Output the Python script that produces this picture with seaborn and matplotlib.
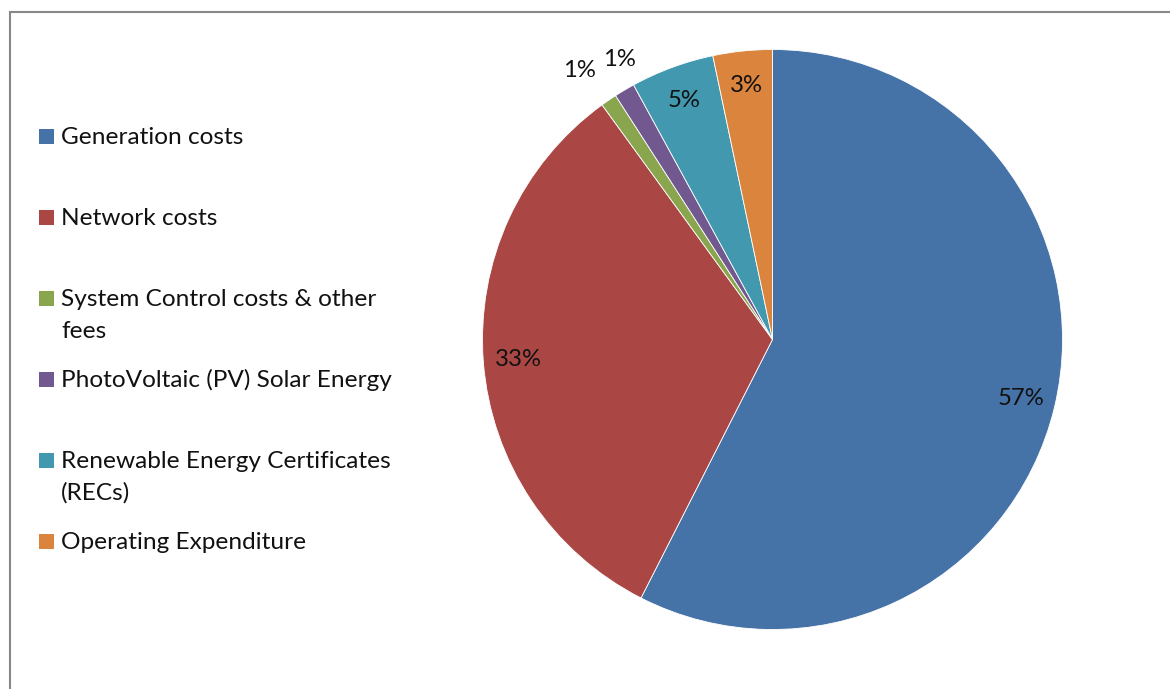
import matplotlib
matplotlib.use("Agg")
import matplotlib.pyplot as plt
import seaborn as sns
import numpy as np
from matplotlib.patches import Rectangle

# %% data (share of total cost, %)
categories = ["Generation costs", "Network costs", "System Control costs & other\nfees",
              "PhotoVoltaic (PV) Solar Energy", "Renewable Energy Certificates\n(RECs)",
              "Operating Expenditure"]
shares = [57.49, 32.51, 0.90, 1.15, 4.65, 3.30]
colors = sns.color_palette(["#4572A7", "#AA4643", "#89A54E", "#71588F", "#4198AF", "#DB843D"])

# small slices get their label outside the pie: index -> (radius, angle shift in deg)
outside = {2: (1.14, 1.3), 3: (1.10, -2.1)}

# %% figure
sns.set_theme(style="white")
plt.rcParams["font.family"] = ["Lato", "DejaVu Sans"]

W, H = 1170, 689
fig = plt.figure(figsize=(W / 100, H / 100), dpi=100)
fig.patch.set_facecolor("white")


def fx(px):
    return px / W


def fy(py):
    return 1 - py / H


# pie centred at (772, 340) px with radius 290 px
ax = fig.add_axes([fx(482.5), fy(629.5), 580 / W, 580 / H])
wedges, texts, autotexts = ax.pie(
    shares, colors=colors, startangle=90, counterclock=False,
    autopct="%.0f%%", pctdistance=0.88,
    wedgeprops=dict(edgecolor="white", linewidth=0.6),
    textprops=dict(fontsize=17.2, color="#111111"))
ax.set_xlim(-1, 1)
ax.set_ylim(-1, 1)
ax.set_aspect("equal")
ax.axis("off")

for i, (r, shift) in outside.items():
    w = wedges[i]
    ang = np.deg2rad((w.theta1 + w.theta2) / 2 + shift)
    autotexts[i].set_position((r * np.cos(ang), r * np.sin(ang)))

# legend on the left, one row every 81 px, square aligned to first line
for i, (lab, col) in enumerate(zip(categories, colors)):
    base = 144 + 81 * i
    fig.add_artist(Rectangle((fx(39), fy(base)), 15 / W, 15 / H,
                             transform=fig.transFigure, color=col, lw=0))
    for k, line in enumerate(lab.split("\n")):
        fig.text(fx(61), fy(base + 32 * k), line, fontsize=17.6,
                 va="baseline", ha="left", color="#111111")

# chart area border (right and bottom edges fall outside the image)
fig.add_artist(Rectangle((fx(10), fy(H + 20)), 1.2, (H + 20 - 12) / H,
                         transform=fig.transFigure, fill=False,
                         edgecolor="#888888", lw=1.5))

fig.savefig("out.png", dpi=100)
